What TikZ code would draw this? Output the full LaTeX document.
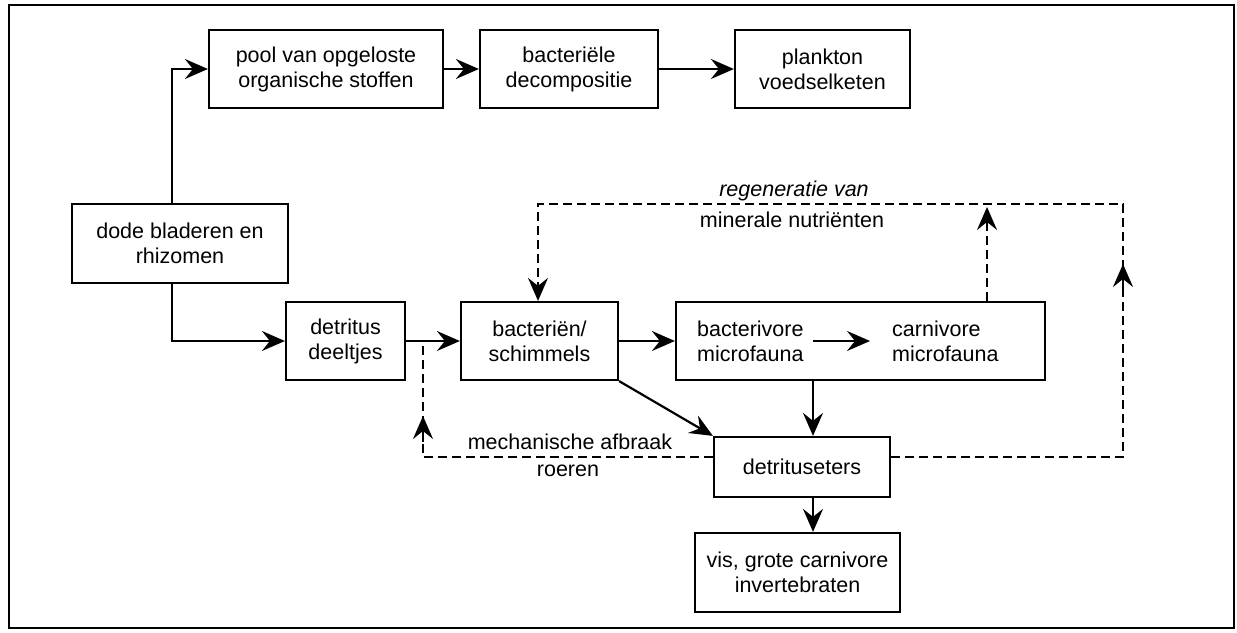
\documentclass[tikz,border=0pt]{standalone}
\usepackage{fontspec}
\setmainfont{Liberation Sans}
\usetikzlibrary{arrows.meta}
\begin{document}
\begin{tikzpicture}[x=1pt,y=-1pt,
  font=\fontsize{21.5}{25}\selectfont,
  box/.style={draw,line width=2.2pt,align=center,inner sep=0pt},
  txt/.style={align=left,inner sep=0pt,anchor=west},
  arr/.style={line width=2.2pt,-{Stealth[length=23pt,width=20pt,inset=8pt]}},
  dsh/.style={line width=2.2pt,dash pattern=on 9pt off 5pt},
  dasharr/.style={dsh,-{Stealth[length=23pt,width=20pt,inset=8pt]}},
  lab/.style={inner sep=0pt}
]
\useasboundingbox (0,0) rectangle (1237,632);
\draw[line width=1.5pt] (9,5) rectangle (1234,628);

% boxes
\node[box,minimum width=234pt,minimum height=78pt] (pool) at (326,69) {pool van opgeloste\\organische stoffen};
\node[box,minimum width=178pt,minimum height=78pt] (bact) at (569,69) {bacteriële\\decompositie};
\node[box,minimum width=175pt,minimum height=78pt] (plank) at (822.5,69) {plankton\\voedselketen};
\node[box,minimum width=216pt,minimum height=79pt] (dode) at (180,243.5) {dode bladeren en\\rhizomen};
\node[box,minimum width=119pt,minimum height=78pt] (detr) at (345.5,341) {detritus\\deeltjes};
\node[box,minimum width=157pt,minimum height=78pt] (bsch) at (539.5,341) {bacteriën/\\schimmels};
\node[box,minimum width=369pt,minimum height=78pt] (micro) at (860.5,341) {};
\node[txt] (bv) at (697,341) {bacterivore\\microfauna};
\node[txt] (cv) at (892,341) {carnivore\\microfauna};
\node[box,minimum width=176pt,minimum height=60pt] (dete) at (802,467) {detrituseters};
\node[box,minimum width=205pt,minimum height=79pt] (vis) at (797.5,572.5) {vis, grote carnivore\\invertebraten};

% helper coordinates
\coordinate (j1) at (172,0);
\coordinate (dcol) at (813,0);
\coordinate (xl) at (423,0);
\coordinate (xr) at (1123,0);
\coordinate (xt) at (538,0);
\coordinate (xc) at (987,0);
\coordinate (yb) at (0,457);
\coordinate (yt) at (0,204);
\coordinate (yd) at (0,341);
\coordinate (la1) at (423,442);
\coordinate (la2) at (423,416);
\coordinate (ra1) at (1123,290);
\coordinate (ra2) at (1123,264);
\coordinate (ct) at (987,207);

% solid connectors
\draw[arr] (j1 |- dode.north) |- (pool.west);
\draw[arr] (j1 |- dode.south) |- (detr.west);
\draw[arr] (pool.east) -- (bact.west);
\draw[arr] (bact.east) -- (plank.west);
\draw[arr] (detr.east) -- (bsch.west);
\draw[arr] (bsch.east) -- (micro.west);
\draw[arr] ([xshift=9pt]bv.east) -- ([xshift=-22pt]cv.west);
\draw[arr] (dcol |- micro.south) -- (dcol |- dete.north);
\draw[arr] (dcol |- dete.south) -- (dcol |- vis.north);
\draw[arr] (bsch.south east) -- (dete.north west);

% dashed connectors
\draw[dsh] (dete.west |- yb) -- (xl |- yb) -- (xl |- yd);
\draw[arr] (la1) -- (la2);
\draw[dasharr] (dete.east |- yb) -| (xr |- yt) -| (xt |- bsch.north);
\draw[arr] (ra1) -- (ra2);
\draw[dasharr] (xc |- micro.north) -- (ct);

% labels
\node[lab,font=\fontsize{21.5}{25}\selectfont\itshape] (l1) at (794,191) {regeneratie van};
\node[lab] (l2) at (792,220) {minerale nutriënten};
\node[lab] (l3) at (570,442) {mechanische afbraak};
\node[lab] (l4) at (568,471) {roeren};
\end{tikzpicture}
\end{document}
